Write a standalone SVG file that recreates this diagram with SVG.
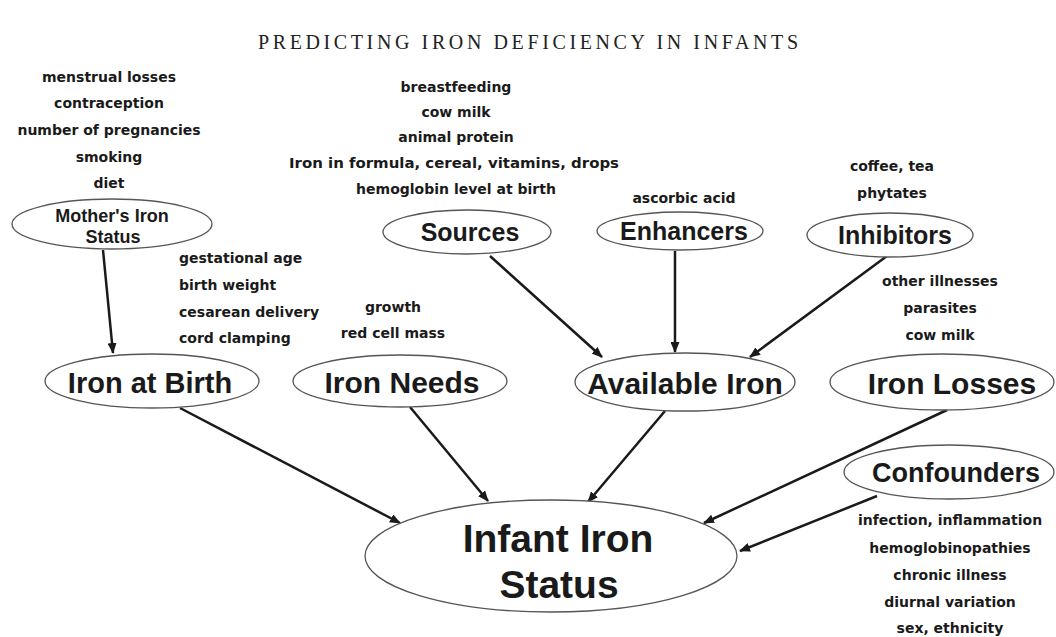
<svg xmlns="http://www.w3.org/2000/svg" width="1056" height="637" viewBox="0 0 1056 637">
<style>
.bg{fill:#fff}
.node ellipse{fill:#fff;stroke:#555;stroke-width:1.3}
.lbl{font-family:"Liberation Sans",Arial,sans-serif;font-weight:bold;fill:#1a1a1a;text-anchor:middle}
.sm{font-family:"DejaVu Sans",sans-serif;font-weight:bold;font-size:14px;fill:#1a1a1a;text-anchor:middle}
.sml{font-family:"DejaVu Sans",sans-serif;font-weight:bold;font-size:14px;fill:#1a1a1a;text-anchor:start}
.title{font-family:"Liberation Serif","Times New Roman",serif;font-size:20px;fill:#222;text-anchor:middle}
#connectors line{stroke:#1a1a1a;stroke-width:2.5;marker-end:url(#arr)}
</style>
<defs>
<marker id="arr" markerUnits="userSpaceOnUse" markerWidth="11" markerHeight="9" refX="10" refY="4.5" orient="auto">
<path d="M0,0 L11,4.5 L0,9 z" fill="#1a1a1a"/>
</marker>
</defs>
<rect class="bg" x="0" y="0" width="1056" height="637"/>
<text class="title" x="528" y="49" textLength="540" lengthAdjust="spacing">PREDICTING IRON DEFICIENCY IN INFANTS</text>

<g id="connectors">
<line x1="103" y1="250" x2="113" y2="353"/>
<line x1="490" y1="256" x2="602" y2="357"/>
<line x1="675" y1="251" x2="675" y2="352"/>
<line x1="887" y1="256" x2="750" y2="357"/>
<line x1="180" y1="408" x2="400" y2="523"/>
<line x1="410" y1="407" x2="488" y2="501"/>
<line x1="665" y1="411" x2="588" y2="502"/>
<line x1="947" y1="410" x2="704" y2="523"/>
<line x1="877" y1="496" x2="740" y2="551"/>
</g>

<g id="mother-factors">
<text class="sm" x="109" y="82">menstrual losses</text>
<text class="sm" x="109" y="108">contraception</text>
<text class="sm" x="109" y="135">number of pregnancies</text>
<text class="sm" x="109" y="162">smoking</text>
<text class="sm" x="109" y="188">diet</text>
</g>
<g id="mothers-iron-status" class="node">
<ellipse cx="112" cy="224" rx="100" ry="25"/>
<text class="lbl" x="112" y="222" font-size="18">Mother's Iron</text>
<text class="lbl" x="113" y="243" font-size="18">Status</text>
</g>

<g id="source-factors">
<text class="sm" x="456" y="92">breastfeeding</text>
<text class="sm" x="456" y="117">cow milk</text>
<text class="sm" x="456" y="142">animal protein</text>
<text class="sm" x="454" y="168" textLength="330" lengthAdjust="spacingAndGlyphs">Iron in formula, cereal, vitamins, drops</text>
<text class="sm" x="456" y="194">hemoglobin level at birth</text>
</g>
<g id="sources" class="node">
<ellipse cx="467" cy="232" rx="84" ry="22"/>
<text class="lbl" x="470" y="241" font-size="25">Sources</text>
</g>

<g id="enhancer-factors">
<text class="sm" x="684" y="203">ascorbic acid</text>
</g>
<g id="enhancers" class="node">
<ellipse cx="680" cy="231" rx="83" ry="19"/>
<text class="lbl" x="684" y="240" font-size="25">Enhancers</text>
</g>

<g id="inhibitor-factors">
<text class="sm" x="892" y="171">coffee, tea</text>
<text class="sm" x="892" y="198">phytates</text>
</g>
<g id="inhibitors" class="node">
<ellipse cx="890" cy="235" rx="83" ry="22"/>
<text class="lbl" x="895" y="244" font-size="25">Inhibitors</text>
</g>

<g id="birth-factors">
<text class="sml" x="179" y="263">gestational age</text>
<text class="sml" x="179" y="290">birth weight</text>
<text class="sml" x="179" y="317">cesarean delivery</text>
<text class="sml" x="179" y="343">cord clamping</text>
</g>
<g id="iron-at-birth" class="node">
<ellipse cx="152" cy="381" rx="107" ry="27"/>
<text class="lbl" x="150" y="393" font-size="29">Iron at Birth</text>
</g>

<g id="needs-factors">
<text class="sm" x="393" y="312">growth</text>
<text class="sm" x="393" y="338">red cell mass</text>
</g>
<g id="iron-needs" class="node">
<ellipse cx="400" cy="381" rx="107" ry="26"/>
<text class="lbl" x="402" y="393" font-size="30">Iron Needs</text>
</g>

<g id="available-iron" class="node">
<ellipse cx="685" cy="382" rx="110" ry="29"/>
<text class="lbl" x="685" y="394" font-size="30">Available Iron</text>
</g>

<g id="loss-factors">
<text class="sm" x="940" y="286">other illnesses</text>
<text class="sm" x="940" y="313">parasites</text>
<text class="sm" x="940" y="340">cow milk</text>
</g>
<g id="iron-losses" class="node">
<ellipse cx="942" cy="382" rx="112" ry="28"/>
<text class="lbl" x="952" y="394" font-size="30">Iron Losses</text>
</g>

<g id="confounders" class="node">
<ellipse cx="949" cy="472" rx="105" ry="27"/>
<text class="lbl" x="956" y="482" font-size="27">Confounders</text>
</g>
<g id="confounder-factors">
<text class="sm" x="950" y="525">infection, inflammation</text>
<text class="sm" x="950" y="553">hemoglobinopathies</text>
<text class="sm" x="950" y="580">chronic illness</text>
<text class="sm" x="950" y="607">diurnal variation</text>
<text class="sm" x="950" y="633">sex, ethnicity</text>
</g>

<g id="infant-iron-status" class="node">
<ellipse cx="551" cy="556" rx="186" ry="56"/>
<text class="lbl" x="558" y="552" font-size="39">Infant Iron</text>
<text class="lbl" x="559" y="598" font-size="39">Status</text>
</g>
</svg>
